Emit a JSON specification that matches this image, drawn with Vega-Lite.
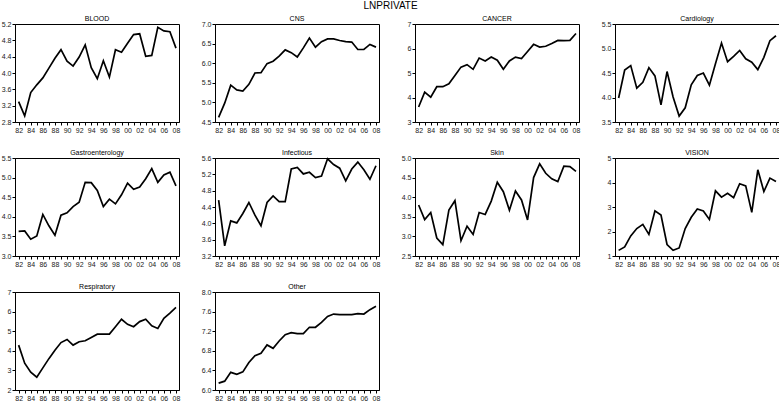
{
  "$schema": "https://vega.github.io/schema/vega-lite/v6.json",
  "padding": {"left": 0, "top": 0, "right": 0, "bottom": 0},
  "background": "white",
  "title": {"text": "LNPRIVATE", "fontSize": 10, "fontWeight": "normal", "font": "Liberation Sans", "anchor": "middle", "color": "black", "offset": 4},
  "bounds": "flush",
  "columns": 4,
  "spacing": {"row": 36, "column": 36},
  "datasets": {
    "d": [
      {"s":"BLOOD","year":1982,"v":3.30},{"s":"BLOOD","year":1983,"v":2.95},{"s":"BLOOD","year":1984,"v":3.52},{"s":"BLOOD","year":1985,"v":3.71},{"s":"BLOOD","year":1986,"v":3.88},{"s":"BLOOD","year":1987,"v":4.12},{"s":"BLOOD","year":1988,"v":4.36},{"s":"BLOOD","year":1989,"v":4.57},{"s":"BLOOD","year":1990,"v":4.29},{"s":"BLOOD","year":1991,"v":4.17},{"s":"BLOOD","year":1992,"v":4.39},{"s":"BLOOD","year":1993,"v":4.69},{"s":"BLOOD","year":1994,"v":4.13},{"s":"BLOOD","year":1995,"v":3.86},{"s":"BLOOD","year":1996,"v":4.30},{"s":"BLOOD","year":1997,"v":3.90},{"s":"BLOOD","year":1998,"v":4.57},{"s":"BLOOD","year":1999,"v":4.51},{"s":"BLOOD","year":2000,"v":4.73},{"s":"BLOOD","year":2001,"v":4.94},{"s":"BLOOD","year":2002,"v":4.96},{"s":"BLOOD","year":2003,"v":4.41},{"s":"BLOOD","year":2004,"v":4.43},{"s":"BLOOD","year":2005,"v":5.12},{"s":"BLOOD","year":2006,"v":5.03},{"s":"BLOOD","year":2007,"v":5.01},{"s":"BLOOD","year":2008,"v":4.61},
      {"s":"CNS","year":1982,"v":4.62},{"s":"CNS","year":1983,"v":4.98},{"s":"CNS","year":1984,"v":5.44},{"s":"CNS","year":1985,"v":5.32},{"s":"CNS","year":1986,"v":5.29},{"s":"CNS","year":1987,"v":5.46},{"s":"CNS","year":1988,"v":5.75},{"s":"CNS","year":1989,"v":5.76},{"s":"CNS","year":1990,"v":5.99},{"s":"CNS","year":1991,"v":6.05},{"s":"CNS","year":1992,"v":6.18},{"s":"CNS","year":1993,"v":6.34},{"s":"CNS","year":1994,"v":6.27},{"s":"CNS","year":1995,"v":6.16},{"s":"CNS","year":1996,"v":6.39},{"s":"CNS","year":1997,"v":6.64},{"s":"CNS","year":1998,"v":6.41},{"s":"CNS","year":1999,"v":6.55},{"s":"CNS","year":2000,"v":6.62},{"s":"CNS","year":2001,"v":6.62},{"s":"CNS","year":2002,"v":6.58},{"s":"CNS","year":2003,"v":6.55},{"s":"CNS","year":2004,"v":6.54},{"s":"CNS","year":2005,"v":6.35},{"s":"CNS","year":2006,"v":6.35},{"s":"CNS","year":2007,"v":6.48},{"s":"CNS","year":2008,"v":6.41},
      {"s":"CANCER","year":1982,"v":3.61},{"s":"CANCER","year":1983,"v":4.22},{"s":"CANCER","year":1984,"v":4.01},{"s":"CANCER","year":1985,"v":4.44},{"s":"CANCER","year":1986,"v":4.44},{"s":"CANCER","year":1987,"v":4.56},{"s":"CANCER","year":1988,"v":4.90},{"s":"CANCER","year":1989,"v":5.24},{"s":"CANCER","year":1990,"v":5.34},{"s":"CANCER","year":1991,"v":5.15},{"s":"CANCER","year":1992,"v":5.61},{"s":"CANCER","year":1993,"v":5.49},{"s":"CANCER","year":1994,"v":5.65},{"s":"CANCER","year":1995,"v":5.52},{"s":"CANCER","year":1996,"v":5.15},{"s":"CANCER","year":1997,"v":5.49},{"s":"CANCER","year":1998,"v":5.65},{"s":"CANCER","year":1999,"v":5.59},{"s":"CANCER","year":2000,"v":5.88},{"s":"CANCER","year":2001,"v":6.17},{"s":"CANCER","year":2002,"v":6.06},{"s":"CANCER","year":2003,"v":6.09},{"s":"CANCER","year":2004,"v":6.20},{"s":"CANCER","year":2005,"v":6.33},{"s":"CANCER","year":2006,"v":6.32},{"s":"CANCER","year":2007,"v":6.33},{"s":"CANCER","year":2008,"v":6.61},
      {"s":"Cardiology","year":1982,"v":3.99},{"s":"Cardiology","year":1983,"v":4.56},{"s":"Cardiology","year":1984,"v":4.65},{"s":"Cardiology","year":1985,"v":4.19},{"s":"Cardiology","year":1986,"v":4.31},{"s":"Cardiology","year":1987,"v":4.61},{"s":"Cardiology","year":1988,"v":4.44},{"s":"Cardiology","year":1989,"v":3.85},{"s":"Cardiology","year":1990,"v":4.53},{"s":"Cardiology","year":1991,"v":4.01},{"s":"Cardiology","year":1992,"v":3.62},{"s":"Cardiology","year":1993,"v":3.79},{"s":"Cardiology","year":1994,"v":4.26},{"s":"Cardiology","year":1995,"v":4.45},{"s":"Cardiology","year":1996,"v":4.50},{"s":"Cardiology","year":1997,"v":4.25},{"s":"Cardiology","year":1998,"v":4.69},{"s":"Cardiology","year":1999,"v":5.11},{"s":"Cardiology","year":2000,"v":4.73},{"s":"Cardiology","year":2001,"v":4.84},{"s":"Cardiology","year":2002,"v":4.96},{"s":"Cardiology","year":2003,"v":4.79},{"s":"Cardiology","year":2004,"v":4.72},{"s":"Cardiology","year":2005,"v":4.57},{"s":"Cardiology","year":2006,"v":4.82},{"s":"Cardiology","year":2007,"v":5.16},{"s":"Cardiology","year":2008,"v":5.26},
      {"s":"Gastroenterology","year":1982,"v":3.63},{"s":"Gastroenterology","year":1983,"v":3.64},{"s":"Gastroenterology","year":1984,"v":3.43},{"s":"Gastroenterology","year":1985,"v":3.51},{"s":"Gastroenterology","year":1986,"v":4.06},{"s":"Gastroenterology","year":1987,"v":3.77},{"s":"Gastroenterology","year":1988,"v":3.53},{"s":"Gastroenterology","year":1989,"v":4.04},{"s":"Gastroenterology","year":1990,"v":4.10},{"s":"Gastroenterology","year":1991,"v":4.26},{"s":"Gastroenterology","year":1992,"v":4.37},{"s":"Gastroenterology","year":1993,"v":4.88},{"s":"Gastroenterology","year":1994,"v":4.87},{"s":"Gastroenterology","year":1995,"v":4.67},{"s":"Gastroenterology","year":1996,"v":4.26},{"s":"Gastroenterology","year":1997,"v":4.45},{"s":"Gastroenterology","year":1998,"v":4.33},{"s":"Gastroenterology","year":1999,"v":4.56},{"s":"Gastroenterology","year":2000,"v":4.86},{"s":"Gastroenterology","year":2001,"v":4.70},{"s":"Gastroenterology","year":2002,"v":4.76},{"s":"Gastroenterology","year":2003,"v":4.97},{"s":"Gastroenterology","year":2004,"v":5.23},{"s":"Gastroenterology","year":2005,"v":4.88},{"s":"Gastroenterology","year":2006,"v":5.07},{"s":"Gastroenterology","year":2007,"v":5.14},{"s":"Gastroenterology","year":2008,"v":4.79},
      {"s":"Infectious","year":1982,"v":4.57},{"s":"Infectious","year":1983,"v":3.45},{"s":"Infectious","year":1984,"v":4.06},{"s":"Infectious","year":1985,"v":4.01},{"s":"Infectious","year":1986,"v":4.24},{"s":"Infectious","year":1987,"v":4.51},{"s":"Infectious","year":1988,"v":4.20},{"s":"Infectious","year":1989,"v":3.94},{"s":"Infectious","year":1990,"v":4.51},{"s":"Infectious","year":1991,"v":4.67},{"s":"Infectious","year":1992,"v":4.53},{"s":"Infectious","year":1993,"v":4.53},{"s":"Infectious","year":1994,"v":5.33},{"s":"Infectious","year":1995,"v":5.37},{"s":"Infectious","year":1996,"v":5.21},{"s":"Infectious","year":1997,"v":5.25},{"s":"Infectious","year":1998,"v":5.12},{"s":"Infectious","year":1999,"v":5.16},{"s":"Infectious","year":2000,"v":5.58},{"s":"Infectious","year":2001,"v":5.44},{"s":"Infectious","year":2002,"v":5.35},{"s":"Infectious","year":2003,"v":5.04},{"s":"Infectious","year":2004,"v":5.33},{"s":"Infectious","year":2005,"v":5.50},{"s":"Infectious","year":2006,"v":5.31},{"s":"Infectious","year":2007,"v":5.08},{"s":"Infectious","year":2008,"v":5.41},
      {"s":"Skin","year":1982,"v":3.80},{"s":"Skin","year":1983,"v":3.43},{"s":"Skin","year":1984,"v":3.61},{"s":"Skin","year":1985,"v":2.96},{"s":"Skin","year":1986,"v":2.79},{"s":"Skin","year":1987,"v":3.67},{"s":"Skin","year":1988,"v":3.91},{"s":"Skin","year":1989,"v":2.89},{"s":"Skin","year":1990,"v":3.26},{"s":"Skin","year":1991,"v":3.05},{"s":"Skin","year":1992,"v":3.61},{"s":"Skin","year":1993,"v":3.56},{"s":"Skin","year":1994,"v":3.90},{"s":"Skin","year":1995,"v":4.38},{"s":"Skin","year":1996,"v":4.14},{"s":"Skin","year":1997,"v":3.67},{"s":"Skin","year":1998,"v":4.16},{"s":"Skin","year":1999,"v":3.93},{"s":"Skin","year":2000,"v":3.42},{"s":"Skin","year":2001,"v":4.50},{"s":"Skin","year":2002,"v":4.85},{"s":"Skin","year":2003,"v":4.61},{"s":"Skin","year":2004,"v":4.47},{"s":"Skin","year":2005,"v":4.40},{"s":"Skin","year":2006,"v":4.79},{"s":"Skin","year":2007,"v":4.78},{"s":"Skin","year":2008,"v":4.66},
      {"s":"VISION","year":1982,"v":1.23},{"s":"VISION","year":1983,"v":1.37},{"s":"VISION","year":1984,"v":1.82},{"s":"VISION","year":1985,"v":2.12},{"s":"VISION","year":1986,"v":2.29},{"s":"VISION","year":1987,"v":1.88},{"s":"VISION","year":1988,"v":2.84},{"s":"VISION","year":1989,"v":2.67},{"s":"VISION","year":1990,"v":1.47},{"s":"VISION","year":1991,"v":1.23},{"s":"VISION","year":1992,"v":1.33},{"s":"VISION","year":1993,"v":2.12},{"s":"VISION","year":1994,"v":2.58},{"s":"VISION","year":1995,"v":2.92},{"s":"VISION","year":1996,"v":2.84},{"s":"VISION","year":1997,"v":2.49},{"s":"VISION","year":1998,"v":3.66},{"s":"VISION","year":1999,"v":3.40},{"s":"VISION","year":2000,"v":3.56},{"s":"VISION","year":2001,"v":3.38},{"s":"VISION","year":2002,"v":3.95},{"s":"VISION","year":2003,"v":3.86},{"s":"VISION","year":2004,"v":2.78},{"s":"VISION","year":2005,"v":4.52},{"s":"VISION","year":2006,"v":3.63},{"s":"VISION","year":2007,"v":4.18},{"s":"VISION","year":2008,"v":4.04},
      {"s":"Respiratory","year":1982,"v":4.29},{"s":"Respiratory","year":1983,"v":3.37},{"s":"Respiratory","year":1984,"v":2.91},{"s":"Respiratory","year":1985,"v":2.65},{"s":"Respiratory","year":1986,"v":3.13},{"s":"Respiratory","year":1987,"v":3.60},{"s":"Respiratory","year":1988,"v":4.03},{"s":"Respiratory","year":1989,"v":4.42},{"s":"Respiratory","year":1990,"v":4.58},{"s":"Respiratory","year":1991,"v":4.29},{"s":"Respiratory","year":1992,"v":4.46},{"s":"Respiratory","year":1993,"v":4.51},{"s":"Respiratory","year":1994,"v":4.68},{"s":"Respiratory","year":1995,"v":4.85},{"s":"Respiratory","year":1996,"v":4.85},{"s":"Respiratory","year":1997,"v":4.85},{"s":"Respiratory","year":1998,"v":5.23},{"s":"Respiratory","year":1999,"v":5.61},{"s":"Respiratory","year":2000,"v":5.35},{"s":"Respiratory","year":2001,"v":5.23},{"s":"Respiratory","year":2002,"v":5.49},{"s":"Respiratory","year":2003,"v":5.61},{"s":"Respiratory","year":2004,"v":5.27},{"s":"Respiratory","year":2005,"v":5.14},{"s":"Respiratory","year":2006,"v":5.66},{"s":"Respiratory","year":2007,"v":5.92},{"s":"Respiratory","year":2008,"v":6.21},
      {"s":"Other","year":1982,"v":6.14},{"s":"Other","year":1983,"v":6.18},{"s":"Other","year":1984,"v":6.36},{"s":"Other","year":1985,"v":6.32},{"s":"Other","year":1986,"v":6.37},{"s":"Other","year":1987,"v":6.56},{"s":"Other","year":1988,"v":6.70},{"s":"Other","year":1989,"v":6.75},{"s":"Other","year":1990,"v":6.92},{"s":"Other","year":1991,"v":6.85},{"s":"Other","year":1992,"v":7.00},{"s":"Other","year":1993,"v":7.13},{"s":"Other","year":1994,"v":7.17},{"s":"Other","year":1995,"v":7.15},{"s":"Other","year":1996,"v":7.15},{"s":"Other","year":1997,"v":7.28},{"s":"Other","year":1998,"v":7.28},{"s":"Other","year":1999,"v":7.38},{"s":"Other","year":2000,"v":7.50},{"s":"Other","year":2001,"v":7.55},{"s":"Other","year":2002,"v":7.54},{"s":"Other","year":2003,"v":7.54},{"s":"Other","year":2004,"v":7.54},{"s":"Other","year":2005,"v":7.56},{"s":"Other","year":2006,"v":7.55},{"s":"Other","year":2007,"v":7.64},{"s":"Other","year":2008,"v":7.71}
    ]
  },
  "data": {"name": "d"},
  "concat": [
    {"title": "BLOOD", "width": 164, "height": 98, "transform": [{"filter": {"field": "s", "equal": "BLOOD"}}], "mark": {"type": "line", "color": "black", "strokeWidth": 1.7},
     "encoding": {"x": {"field": "year", "type": "quantitative", "scale": {"domain": [1981.4, 2008.5]}, "axis": {"values": [1982,1983,1984,1985,1986,1987,1988,1989,1990,1991,1992,1993,1994,1995,1996,1997,1998,1999,2000,2001,2002,2003,2004,2005,2006,2007,2008], "labelExpr": "datum.value % 2 == 0 ? substring(toString(datum.value), 2) : ''"}},
                  "y": {"field": "v", "type": "quantitative", "scale": {"domain": [2.8, 5.2]}, "axis": {"values": [2.8,3.2,3.6,4.0,4.4,4.8,5.2], "format": ".1f"}}}},
    {"title": "CNS", "width": 164, "height": 98, "transform": [{"filter": {"field": "s", "equal": "CNS"}}], "mark": {"type": "line", "color": "black", "strokeWidth": 1.7},
     "encoding": {"x": {"field": "year", "type": "quantitative", "scale": {"domain": [1981.4, 2008.5]}, "axis": {"values": [1982,1983,1984,1985,1986,1987,1988,1989,1990,1991,1992,1993,1994,1995,1996,1997,1998,1999,2000,2001,2002,2003,2004,2005,2006,2007,2008], "labelExpr": "datum.value % 2 == 0 ? substring(toString(datum.value), 2) : ''"}},
                  "y": {"field": "v", "type": "quantitative", "scale": {"domain": [4.5, 7.0]}, "axis": {"values": [4.5,5.0,5.5,6.0,6.5,7.0], "format": ".1f"}}}},
    {"title": "CANCER", "width": 164, "height": 98, "transform": [{"filter": {"field": "s", "equal": "CANCER"}}], "mark": {"type": "line", "color": "black", "strokeWidth": 1.7},
     "encoding": {"x": {"field": "year", "type": "quantitative", "scale": {"domain": [1981.4, 2008.5]}, "axis": {"values": [1982,1983,1984,1985,1986,1987,1988,1989,1990,1991,1992,1993,1994,1995,1996,1997,1998,1999,2000,2001,2002,2003,2004,2005,2006,2007,2008], "labelExpr": "datum.value % 2 == 0 ? substring(toString(datum.value), 2) : ''"}},
                  "y": {"field": "v", "type": "quantitative", "scale": {"domain": [3, 7]}, "axis": {"values": [3,4,5,6,7], "format": "d"}}}},
    {"title": "Cardiology", "width": 164, "height": 98, "transform": [{"filter": {"field": "s", "equal": "Cardiology"}}], "mark": {"type": "line", "color": "black", "strokeWidth": 1.7},
     "encoding": {"x": {"field": "year", "type": "quantitative", "scale": {"domain": [1981.4, 2008.5]}, "axis": {"values": [1982,1983,1984,1985,1986,1987,1988,1989,1990,1991,1992,1993,1994,1995,1996,1997,1998,1999,2000,2001,2002,2003,2004,2005,2006,2007,2008], "labelExpr": "datum.value % 2 == 0 ? substring(toString(datum.value), 2) : ''"}},
                  "y": {"field": "v", "type": "quantitative", "scale": {"domain": [3.5, 5.5]}, "axis": {"values": [3.5,4.0,4.5,5.0,5.5], "format": ".1f"}}}},
    {"title": "Gastroenterology", "width": 164, "height": 98, "transform": [{"filter": {"field": "s", "equal": "Gastroenterology"}}], "mark": {"type": "line", "color": "black", "strokeWidth": 1.7},
     "encoding": {"x": {"field": "year", "type": "quantitative", "scale": {"domain": [1981.4, 2008.5]}, "axis": {"values": [1982,1983,1984,1985,1986,1987,1988,1989,1990,1991,1992,1993,1994,1995,1996,1997,1998,1999,2000,2001,2002,2003,2004,2005,2006,2007,2008], "labelExpr": "datum.value % 2 == 0 ? substring(toString(datum.value), 2) : ''"}},
                  "y": {"field": "v", "type": "quantitative", "scale": {"domain": [3.0, 5.5]}, "axis": {"values": [3.0,3.5,4.0,4.5,5.0,5.5], "format": ".1f"}}}},
    {"title": "Infectious", "width": 164, "height": 98, "transform": [{"filter": {"field": "s", "equal": "Infectious"}}], "mark": {"type": "line", "color": "black", "strokeWidth": 1.7},
     "encoding": {"x": {"field": "year", "type": "quantitative", "scale": {"domain": [1981.4, 2008.5]}, "axis": {"values": [1982,1983,1984,1985,1986,1987,1988,1989,1990,1991,1992,1993,1994,1995,1996,1997,1998,1999,2000,2001,2002,2003,2004,2005,2006,2007,2008], "labelExpr": "datum.value % 2 == 0 ? substring(toString(datum.value), 2) : ''"}},
                  "y": {"field": "v", "type": "quantitative", "scale": {"domain": [3.2, 5.6]}, "axis": {"values": [3.2,3.6,4.0,4.4,4.8,5.2,5.6], "format": ".1f"}}}},
    {"title": "Skin", "width": 164, "height": 98, "transform": [{"filter": {"field": "s", "equal": "Skin"}}], "mark": {"type": "line", "color": "black", "strokeWidth": 1.7},
     "encoding": {"x": {"field": "year", "type": "quantitative", "scale": {"domain": [1981.4, 2008.5]}, "axis": {"values": [1982,1983,1984,1985,1986,1987,1988,1989,1990,1991,1992,1993,1994,1995,1996,1997,1998,1999,2000,2001,2002,2003,2004,2005,2006,2007,2008], "labelExpr": "datum.value % 2 == 0 ? substring(toString(datum.value), 2) : ''"}},
                  "y": {"field": "v", "type": "quantitative", "scale": {"domain": [2.5, 5.0]}, "axis": {"values": [2.5,3.0,3.5,4.0,4.5,5.0], "format": ".1f"}}}},
    {"title": "VISION", "width": 164, "height": 98, "transform": [{"filter": {"field": "s", "equal": "VISION"}}], "mark": {"type": "line", "color": "black", "strokeWidth": 1.7},
     "encoding": {"x": {"field": "year", "type": "quantitative", "scale": {"domain": [1981.4, 2008.5]}, "axis": {"values": [1982,1983,1984,1985,1986,1987,1988,1989,1990,1991,1992,1993,1994,1995,1996,1997,1998,1999,2000,2001,2002,2003,2004,2005,2006,2007,2008], "labelExpr": "datum.value % 2 == 0 ? substring(toString(datum.value), 2) : ''"}},
                  "y": {"field": "v", "type": "quantitative", "scale": {"domain": [1, 5]}, "axis": {"values": [1,2,3,4,5], "format": "d"}}}},
    {"title": "Respiratory", "width": 164, "height": 98, "transform": [{"filter": {"field": "s", "equal": "Respiratory"}}], "mark": {"type": "line", "color": "black", "strokeWidth": 1.7},
     "encoding": {"x": {"field": "year", "type": "quantitative", "scale": {"domain": [1981.4, 2008.5]}, "axis": {"values": [1982,1983,1984,1985,1986,1987,1988,1989,1990,1991,1992,1993,1994,1995,1996,1997,1998,1999,2000,2001,2002,2003,2004,2005,2006,2007,2008], "labelExpr": "datum.value % 2 == 0 ? substring(toString(datum.value), 2) : ''"}},
                  "y": {"field": "v", "type": "quantitative", "scale": {"domain": [2, 7]}, "axis": {"values": [2,3,4,5,6,7], "format": "d"}}}},
    {"title": "Other", "width": 164, "height": 98, "transform": [{"filter": {"field": "s", "equal": "Other"}}], "mark": {"type": "line", "color": "black", "strokeWidth": 1.7},
     "encoding": {"x": {"field": "year", "type": "quantitative", "scale": {"domain": [1981.4, 2008.5]}, "axis": {"values": [1982,1983,1984,1985,1986,1987,1988,1989,1990,1991,1992,1993,1994,1995,1996,1997,1998,1999,2000,2001,2002,2003,2004,2005,2006,2007,2008], "labelExpr": "datum.value % 2 == 0 ? substring(toString(datum.value), 2) : ''"}},
                  "y": {"field": "v", "type": "quantitative", "scale": {"domain": [6.0, 8.0]}, "axis": {"values": [6.0,6.4,6.8,7.2,7.6,8.0], "format": ".1f"}}}}
  ],
  "config": {
    "font": "Liberation Sans",
    "view": {"stroke": "black", "strokeWidth": 1},
    "title": {"fontSize": 7, "fontWeight": "normal", "font": "Liberation Sans", "color": "black", "offset": -2, "anchor": "middle"},
    "axis": {"title": null, "grid": false, "labelFont": "Liberation Sans", "labelFontSize": 7, "labelColor": "#222", "tickColor": "black", "tickSize": 3, "tickWidth": 1, "domainColor": "black", "labelPadding": 1, "labelOverlap": false, "labelFlush": false}
  }
}
